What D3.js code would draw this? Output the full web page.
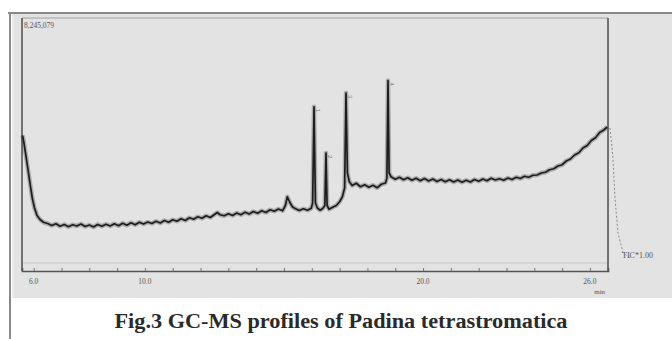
<!DOCTYPE html>
<html>
<head>
<meta charset="utf-8">
<script src="https://cdn.jsdelivr.net/npm/d3@7"></script>
<style>
html,body{margin:0;padding:0;background:#fff;}
svg{display:block;}
</style>
</head>
<body>
<svg id="chart" width="672" height="339"></svg>
<script>
// ---- data (retention time in min, relative intensity) ----
const times = [5.60,5.65,5.72,5.80,5.88,5.95,6.03,6.12,6.22,6.35,6.50,6.65,6.80,6.95,7.10,7.25,7.40,7.55,7.70,7.85,
8.00,8.15,8.30,8.45,8.60,8.75,8.90,9.05,9.20,9.35,9.50,9.65,9.80,9.95,10.10,10.25,10.40,10.55,10.70,10.85,
11.00,11.15,11.30,11.45,11.60,11.75,11.90,12.05,12.20,12.35,12.50,12.60,12.70,12.85,13.00,13.15,13.30,13.45,13.60,13.75,
13.90,14.05,14.20,14.35,14.50,14.65,14.80,14.95,15.05,15.12,15.20,15.30,15.40,15.55,15.70,15.85,15.98,16.03,16.08,16.13,
16.20,16.30,16.40,16.47,16.51,16.55,16.62,16.75,16.88,17.00,17.10,17.18,17.23,17.28,17.35,17.45,17.60,17.75,17.90,18.05,
18.20,18.35,18.50,18.65,18.70,18.74,18.78,18.85,19.00,19.15,19.30,19.45,19.60,19.75,19.90,20.05,20.20,20.35,20.50,20.65,
20.80,20.95,21.10,21.25,21.40,21.55,21.70,21.85,22.00,22.15,22.30,22.45,22.60,22.75,22.90,23.05,23.20,23.35,23.50,23.65,
23.80,23.95,24.10,24.25,24.40,24.55,24.70,24.85,25.00,25.15,25.30,25.45,25.60,25.75,25.90,26.05,26.20,26.35,26.50,26.62];
const intensity = [53,50,45,39,33,28,24,21,19.5,18.3,17.8,17.0,17.7,16.7,17.4,16.5,17.3,16.8,17.6,16.6,
17.2,16.4,17.4,16.7,17.5,16.8,17.7,16.9,17.9,17.1,18.1,17.3,18.3,17.6,18.4,17.8,18.7,18.0,19.0,18.3,
19.3,18.7,19.7,19.0,20.1,19.5,20.5,19.9,20.9,20.2,21.4,22.2,21.3,20.9,21.7,21.0,22.0,21.3,22.3,21.6,
22.6,21.9,22.9,22.2,23.3,22.7,23.6,22.9,25.0,28.5,26.5,24.5,23.8,23.0,23.7,23.1,23.9,26,64.5,26,
24.0,23.1,23.9,25,46,25,23.5,24.3,25.0,26.5,28.5,32,70,38,34.5,33,33.9,32.5,33.3,32.3,
33.1,32.1,33.5,34,36,75,38,36.5,35.5,36.3,35.3,36.1,35.1,35.9,34.9,35.8,34.8,35.6,34.6,35.4,
34.5,35.3,34.4,35.2,34.3,35.1,34.4,35.4,34.7,35.6,34.9,35.9,35.2,35.7,35.1,36.0,35.4,36.3,35.8,36.7,
36.3,37.1,37.2,38.0,38.3,39.3,39.7,40.8,41.3,42.8,43.6,45.2,46.1,48.0,49.0,51.0,52.1,54.2,55.2,56.4];

const xTickValues = [6, 10, 20, 26];
const xTickLabels = ["6.0", "10.0", "20.0", "26.0"];
const minorTicks = [6,7,8,9,10,11,12,13,14,15,16,17,18,19,20,21,22,23,24,25,26];

const peakTimes = [16.08, 16.51, 17.23, 18.74];
const peakHeights = [64.5, 46, 70, 75];
const peakLabels = ["1", "2", "3", "4"];

// TIC trace shown in side panel (fraction across panel, intensity)
const tailPos = [0, 0.05, 0.09, 0.14, 0.23, 0.35];
const tailVal = [56, 44.4, 27.2, 14, 6, 4];

const titleText = "Fig.3 GC-MS profiles of Padina tetrastromatica";
const maxLabel = "8,245,079";
const ticLabel = "TIC*1.00";

// ---- drawing ----
const svg = d3.select("#chart");
const L = 22, R = 608, T = 18, B = 271;

// outer frame & panel
svg.append("rect").attr("x", 12).attr("y", 14).attr("width", 660).attr("height", 284).attr("fill", "#e3e3e3");
svg.append("line").attr("x1", 8).attr("x2", 672).attr("y1", 13).attr("y2", 13).attr("stroke", "#8a8a8a").attr("stroke-width", 2);
svg.append("line").attr("x1", 10).attr("x2", 10).attr("y1", 13).attr("y2", 339).attr("stroke", "#8a8a8a").attr("stroke-width", 2);
svg.append("line").attr("x1", 13).attr("x2", 13).attr("y1", 15).attr("y2", 298).attr("stroke", "#f2f2f2").attr("stroke-width", 1);

const x = d3.scaleLinear().domain([5.58, 26.65]).range([L, R]);
const y = d3.scaleLinear().domain([0, 100]).range([268, T]);

// plot frame
svg.append("line").attr("x1", L).attr("x2", R).attr("y1", T).attr("y2", T).attr("stroke", "#a0a0a0").attr("stroke-width", 1);
svg.append("line").attr("x1", L).attr("x2", R).attr("y1", 263).attr("y2", 263).attr("stroke", "#c8c8c8").attr("stroke-width", 1);
svg.append("line").attr("x1", L).attr("x2", L).attr("y1", T).attr("y2", B).attr("stroke", "#555").attr("stroke-width", 1.6);
svg.append("line").attr("x1", R).attr("x2", R).attr("y1", T).attr("y2", B).attr("stroke", "#555").attr("stroke-width", 1.6);

// x axis
const xAxis = d3.axisBottom(x).tickValues(minorTicks).tickSize(-3).tickFormat("");
const gx = svg.append("g").attr("transform", `translate(0,${B})`).call(xAxis);
gx.select(".domain").attr("stroke", "#555").attr("stroke-width", 1.6);
gx.selectAll(".tick line").attr("stroke", "#777");

svg.append("g").selectAll("text").data(xTickValues).join("text")
  .attr("x", d => x(d)).attr("y", 284)
  .attr("text-anchor", "middle")
  .attr("font-family", "Liberation Serif, serif").attr("font-size", 7.5).attr("fill", "#555")
  .text((d, i) => xTickLabels[i]);
svg.append("text").attr("x", x(26.35)).attr("y", 294).attr("text-anchor", "middle")
  .attr("font-family", "Liberation Serif, serif").attr("font-size", 7).attr("fill", "#555").text("min");

// max intensity label
svg.append("text").attr("x", L + 2).attr("y", 28)
  .attr("font-family", "Liberation Serif, serif").attr("font-size", 7.5).attr("fill", "#555").text(maxLabel);

// chromatogram
const line = d3.line().x((d, i) => x(times[i])).y((d) => y(d));
svg.append("path").datum(intensity).attr("d", line)
  .attr("fill", "none").attr("stroke", "#444").attr("stroke-opacity", 0.35).attr("stroke-width", 4.5).attr("stroke-linejoin", "round");
svg.append("path").datum(intensity).attr("d", line)
  .attr("fill", "none").attr("stroke", "#1c1c1c").attr("stroke-width", 1.7).attr("stroke-linejoin", "round");

// peak labels
svg.append("g").selectAll("text").data(peakTimes).join("text")
  .attr("transform", (d, i) => `translate(${x(d) + 2},${y(peakHeights[i]) + 2}) rotate(90)`)
  .attr("font-family", "Liberation Sans, sans-serif").attr("font-size", 6).attr("fill", "#777")
  .text((d, i) => peakLabels[i]);

// side panel TIC trace
const sx = d3.scaleLinear().domain([0, 1]).range([610, 667]);
const tail = d3.line().x((d, i) => sx(tailPos[i])).y(d => y(d));
svg.append("path").datum(tailVal).attr("d", tail)
  .attr("fill", "none").attr("stroke", "#8a8a8a").attr("stroke-width", 1).attr("stroke-dasharray", "2,2");
svg.append("text").attr("x", 622).attr("y", 258)
  .attr("font-family", "Liberation Serif, serif").attr("font-size", 8).attr("fill", "#555").text(ticLabel);

// title
svg.append("text").attr("x", 341).attr("y", 328).attr("text-anchor", "middle")
  .attr("font-family", "Liberation Serif, serif").attr("font-weight", "bold").attr("font-size", 20)
  .attr("fill", "#2a2a2a").attr("textLength", 453).attr("lengthAdjust", "spacingAndGlyphs")
  .text(titleText);
</script>
</body>
</html>
